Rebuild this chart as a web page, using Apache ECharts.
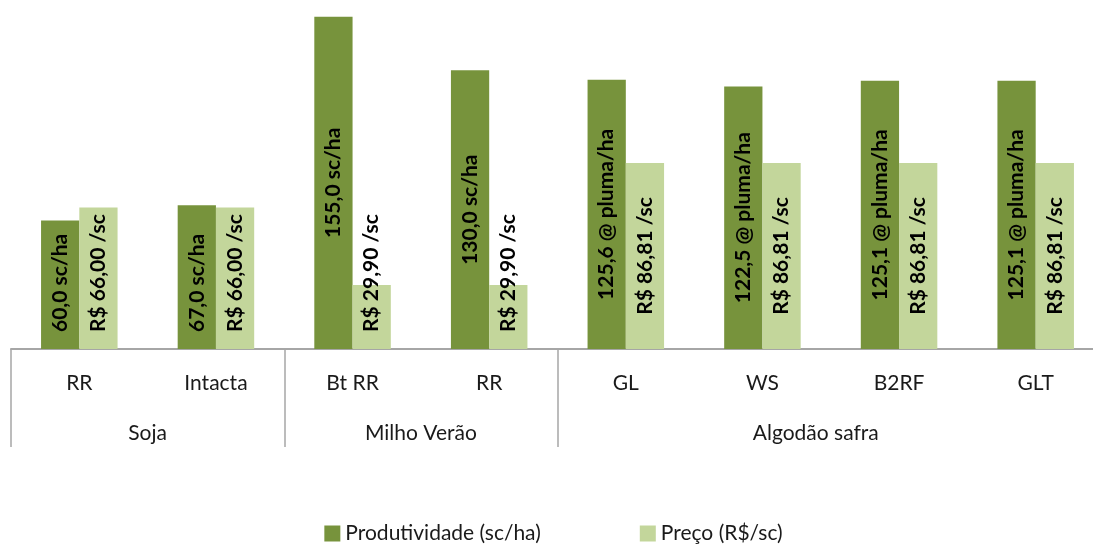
<!DOCTYPE html>
<html lang="pt">
<head>
    <meta charset="utf-8" />
    <title>Produtividade e preço</title>
    <script src="https://cdn.jsdelivr.net/npm/echarts@6/dist/echarts.min.js"></script>
    <style>
        html, body { margin: 0; padding: 0; background: #fff; overflow: hidden; }
        /* o gráfico original é um pouco mais largo que a área visível e fica cortado à direita */
        #chartmain { width: 1107px; height: 544px; }
    </style>
</head>
<body>
    <div id="chartmain"></div>
    <script>
        // dados
        var categorias = ['RR', 'Intacta', 'Bt RR', 'RR', 'GL', 'WS', 'B2RF', 'GLT'];
        var grupos = ['Soja', 'Milho Verão', 'Algodão safra'];
        var grupoTamanho = [2, 2, 4];   // quantas categorias em cada grupo
        var produtividade = [60.0, 67.0, 155.0, 130.0, 125.6, 122.5, 125.1, 125.1];
        var unidadeProd = ['sc/ha', 'sc/ha', 'sc/ha', 'sc/ha', '@ pluma/ha', '@ pluma/ha', '@ pluma/ha', '@ pluma/ha'];
        var preco = [66.00, 66.00, 29.90, 29.90, 86.81, 86.81, 86.81, 86.81];

        var FONTE = 'Lato, "Open Sans", sans-serif';
        var VERDE = '#77933C', VERDE_CLARO = '#C3D69B', CINZA = '#A6A6A6';

        function virgula(v, casas) { return v.toFixed(casas).replace('.', ','); }

        // rótulo na base da barra quando ela é curta demais
        function dadosBarra(valores, limite) {
            return valores.map(function (v) {
                if (v >= limite) return v;
                return { value: v, label: { position: 'insideBottom', distance: 17, align: 'left', verticalAlign: 'middle' } };
            });
        }

        // eixo de grupos: 2 pontos por categoria, rótulo no meio, separador nas bordas
        var eixoGrupo = [], bordas = [0], meio = {}, pos = 0;
        for (var g = 0; g < grupos.length; g++) {
            meio[pos + grupoTamanho[g]] = grupos[g];
            pos += grupoTamanho[g] * 2;
            bordas.push(pos);
        }
        for (var i = 0; i <= pos; i++) eixoGrupo.push(meio[i] || '');

        var rotuloBase = { show: true, rotate: 90, position: 'inside', color: '#000', fontFamily: FONTE, fontWeight: 'bold', fontSize: 21 };

        var option = {
            animation: false,
            textStyle: { fontFamily: FONTE },
            grid: { left: 11, top: 6, right: 0, height: 343, containLabel: false },
            legend: {
                top: 523, left: 'center', padding: 0, icon: 'rect', itemWidth: 16, itemHeight: 16, itemGap: 99,
                textStyle: { fontFamily: FONTE, fontSize: 21, lineHeight: 20, color: '#1a1a1a' },
                data: ['Produtividade (sc/ha)', 'Preço (R$/sc)']
            },
            xAxis: [{
                type: 'category', data: categorias,
                axisLine: { lineStyle: { color: CINZA, width: 2 } },
                axisTick: { show: false },
                axisLabel: { interval: 0, margin: 24, color: '#1a1a1a', fontFamily: FONTE, fontSize: 21 }
            }, {
                type: 'category', data: eixoGrupo, boundaryGap: false, position: 'bottom',
                axisLine: { show: false },
                axisTick: { show: true, length: 98, interval: function (idx) { return bordas.indexOf(idx) >= 0; }, lineStyle: { color: CINZA, width: 1.5 } },
                axisLabel: {
                    interval: 0, margin: 74, color: '#1a1a1a', fontFamily: FONTE, fontSize: 21,
                    // o último grupo fica centrado na parte visível
                    formatter: function (v) { return v === grupos[grupos.length - 1] ? '{ult|' + v + '}' : v; },
                    rich: { ult: { fontFamily: FONTE, fontSize: 21, color: '#1a1a1a', padding: [0, 30, 0, 0] } }
                }
            }],
            yAxis: { type: 'value', min: 0, max: 160, show: false, splitLine: { show: false } },
            series: [{
                name: 'Produtividade (sc/ha)', type: 'bar', xAxisIndex: 0,
                barGap: '0%', barCategoryGap: '44%', itemStyle: { color: VERDE },
                label: Object.assign({}, rotuloBase, { formatter: function (p) { return virgula(p.value, 1) + ' ' + unidadeProd[p.dataIndex]; } }),
                data: dadosBarra(produtividade, 100)
            }, {
                name: 'Preço (R$/sc)', type: 'bar', xAxisIndex: 0,
                barGap: '0%', barCategoryGap: '44%', itemStyle: { color: VERDE_CLARO },
                label: Object.assign({}, rotuloBase, { formatter: function (p) { return 'R$ ' + virgula(p.value, 2) + ' /sc'; } }),
                data: dadosBarra(preco, 80)
            }]
        };
        echarts.init(document.getElementById('chartmain')).setOption(option);
    </script>
</body>
</html>
